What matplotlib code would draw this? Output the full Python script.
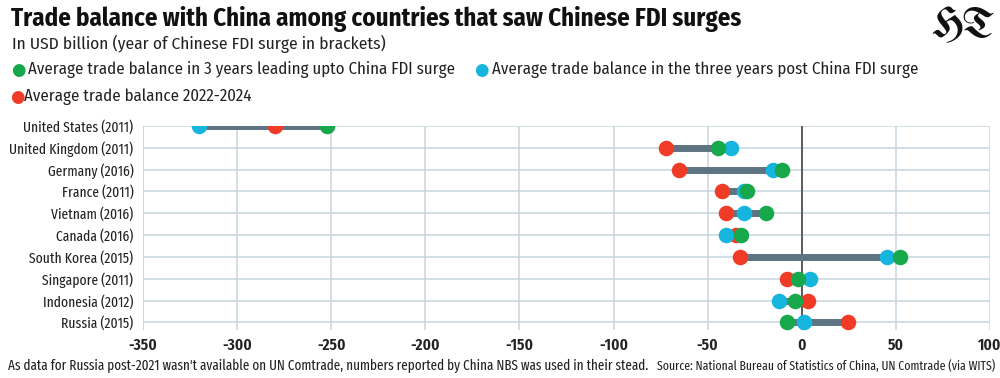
import matplotlib

matplotlib.use("Agg")
import matplotlib.pyplot as plt
import numpy as np

COND = ["Fira Sans Condensed", "Roboto Condensed", "IBM Plex Sans Condensed", "DejaVu Sans"]
XCOND = ["Fira Sans Extra Condensed", "Roboto Condensed", "IBM Plex Sans Condensed", "DejaVu Sans"]
plt.rcParams["font.family"] = COND

countries = ["United States (2011)", "United Kingdom (2011)", "Germany (2016)",
             "France (2011)", "Vietnam (2016)", "Canada (2016)",
             "South Korea (2015)", "Singapore (2011)", "Indonesia (2012)",
             "Russia (2015)"]
pre_surge = [-252, -44.6, -10.6, -28.9, -19.1, -32.4, 52, -1.8, -3.6, -8]
post_surge = [-320, -37.4, -15.4, -30.8, -30.8, -40.4, 45.5, 4.3, -11.9, 1.2]
recent = [-280, -72, -65, -42.5, -40.4, -35, -32.9, -8.1, 3.3, 24.3]
xticks = [-350, -300, -250, -200, -150, -100, -50, 0, 50, 100]

GREEN = "#17a84b"
BLUE = "#16b5de"
RED = "#f03c26"
LINE = "#5e7482"
GRID = "#c8d5de"

fig = plt.figure(figsize=(10, 3.78), dpi=100)
ax = fig.add_axes([0.143, 0.127, 0.847, 0.54])

y = np.arange(len(countries))
vals = np.array([pre_surge, post_surge, recent])
ax.hlines(y, vals.min(axis=0), vals.max(axis=0), color=LINE, lw=5, zorder=3)
ax.scatter(recent, y, s=125, color=RED, zorder=4, lw=0)
ax.scatter(post_surge, y, s=125, color=BLUE, zorder=5, lw=0)
ax.scatter(pre_surge, y, s=125, color=GREEN, zorder=6, lw=0)
ax.axvline(0, color="#5a5a5a", lw=1.4, zorder=2)

ax.set_xlim(-350, 100)
ax.set_ylim(len(countries) - 0.65, 0)
ax.set_xticks(xticks)
ax.set_xticklabels([str(t) for t in xticks], fontsize=12, fontweight="semibold",
                   color="#222222", family=XCOND)
ax.set_yticks(y)
ax.set_yticklabels(countries, fontsize=10.6, color="#222222", family=XCOND)
ax.tick_params(length=0, pad=7)
ax.tick_params(axis="x", pad=5)
ax.grid(True, color=GRID, lw=1.1, zorder=0)
for s in ax.spines.values():
    s.set_visible(False)
ax.axvline(-350, color=GRID, lw=1.1, zorder=0)

fig.text(0.011, 0.951, "Trade balance with China among countries that saw Chinese FDI surges",
         fontsize=17.9, fontweight="bold", color="#111111", va="center",
         family=COND)
fig.text(0.012, 0.885, "In USD billion (year of Chinese FDI surge in brackets)",
         fontsize=12.5, color="#222222", va="center")
fig.text(0.995, 0.935, "HT", fontsize=31, fontweight="bold", ha="right",
         family=["UnifrakturMaguntia", "UnifrakturCook", "DejaVu Serif"],
         va="center", color="#111111")

legend_items = [
    (0.018, 0.815, 0.028, GREEN, "Average trade balance in 3 years leading upto China FDI surge"),
    (0.481, 0.815, 0.492, BLUE, "Average trade balance in the three years post China FDI surge"),
    (0.017, 0.743, 0.024, RED, "Average trade balance 2022-2024"),
]
for dx, ly, tx, col, txt in legend_items:
    fig.text(dx, ly, "\u25CF", color=col, fontsize=12, va="center", ha="center",
             family="DejaVu Sans")
    fig.text(tx, ly, txt, fontsize=12.1, color="#222222", va="center")

fig.text(0.008, 0.032, "As data for Russia post-2021 wasn't available on UN Comtrade, "
         "numbers reported by China NBS was used in their stead.",
         fontsize=10.3, color="#222222", va="center", family=XCOND)
fig.text(0.995, 0.032, "Source: National Bureau of Statistics of China, UN Comtrade (via WITS)",
         fontsize=9.2, color="#222222", va="center", ha="right", family=XCOND)

fig.savefig("out.png", dpi=100)
